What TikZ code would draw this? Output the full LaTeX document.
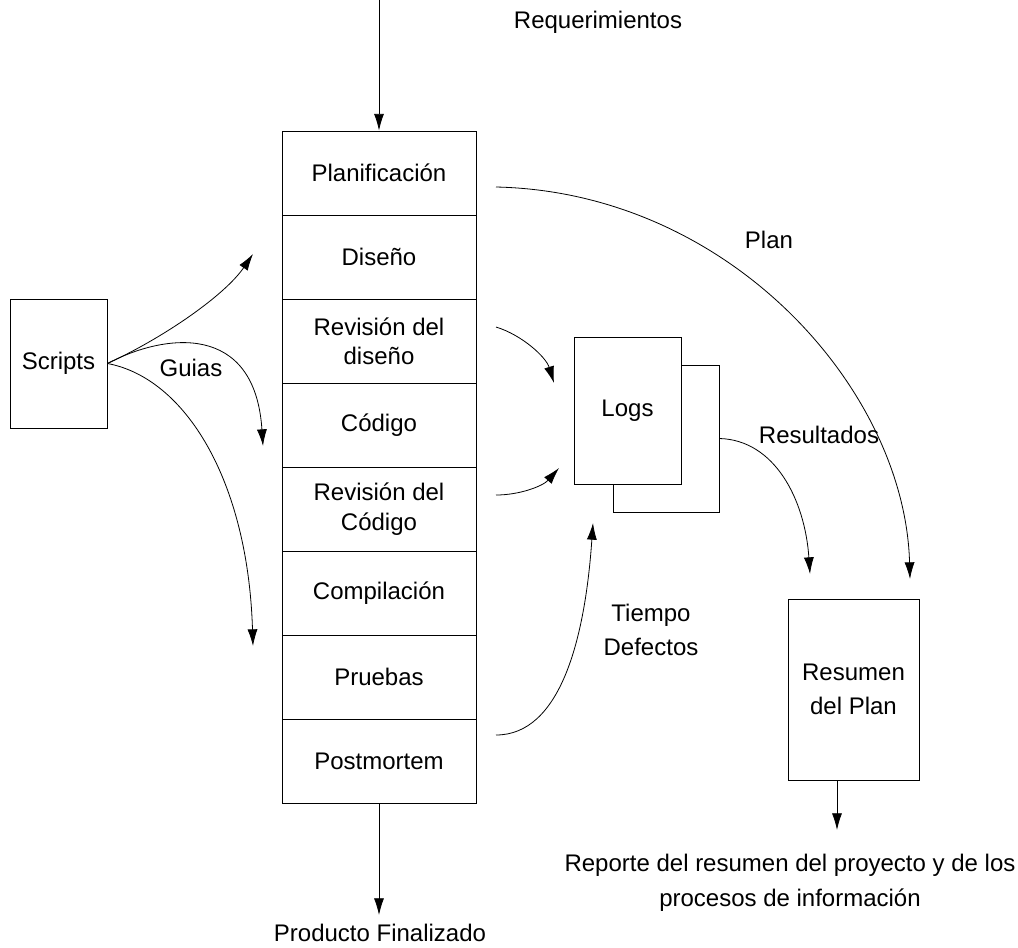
\documentclass[tikz,border=0pt]{standalone}
\usepackage{fontspec}
\setmainfont{Liberation Sans}
\usetikzlibrary{arrows.meta}
\begin{document}
\begin{tikzpicture}[x=0.75pt,y=-0.75pt,
  txt/.style={font=\fontsize{18}{26}\selectfont,inner sep=0pt,align=center},
  stage/.style={draw,line width=0.7pt,minimum width=145.5pt,minimum height=63pt,inner sep=0pt,
                font=\fontsize{18}{22}\selectfont,align=center},
  doc/.style={draw,line width=0.7pt,fill=white,inner sep=0pt,font=\fontsize{18}{25}\selectfont,align=center},
  arr/.style={line width=0.6pt,-{Latex[length=12.5pt,width=7.5pt]}},
  ln/.style={line width=0.6pt}]
\useasboundingbox (0,0) rectangle (1018,947);

% phase stack
\node[stage] (r1) at (379,173) {Planificación};
\node[stage] (r2) at (379,257) {Diseño};
\node[stage] (r3) at (379,341) {Revisión del\\diseño};
\node[stage] (r4) at (379,425) {Código};
\node[stage] (r5) at (379,509) {Revisión del\\Código};
\node[stage] (r6) at (379,593) {Compilación};
\node[stage] (r7) at (379,677) {Pruebas};
\node[stage] (r8) at (379,761) {Postmortem};

% documents
\node[doc,minimum width=72.75pt,minimum height=96.75pt] (scripts) at (58.5,363.5) {Scripts};
\node[doc,minimum width=79.5pt,minimum height=110.25pt] (logsb) at (666,438.5) {};
\node[doc,minimum width=80.25pt,minimum height=110.25pt] (logs) at (627.5,410.5) {Logs};
\node[doc,minimum width=98.25pt,minimum height=135.75pt] (resumen) at (853.5,689.5) {Resumen\\del Plan};

% labels
\node[txt] (req) at (598,22) {Requerimientos};
\node[txt] (prod) at (380,933) {Producto Finalizado};
\node[txt] (guias) at (191,368) {Guias};
\node[txt] (plan) at (769,240) {Plan};
\node[txt] (res) at (819,435) {Resultados};
\node[txt] (tiempo) at (651,630) {Tiempo\\Defectos};
\node[txt] (rep) at (790,883) {Reporte del resumen del proyecto y de los\\procesos de información};

% free ends of connectors
\coordinate (qin) at (379,0);
\coordinate (pout) at (379,915);
\coordinate (s1) at (253,254);
\coordinate (s2) at (263,446);
\coordinate (s3) at (253,646);
\coordinate (a0) at (496,327);
\coordinate (a1) at (554,383);
\coordinate (b0) at (496,495);
\coordinate (b1) at (559,468);
\coordinate (c0) at (496,735);
\coordinate (c1) at (593,523);
\coordinate (d0) at (496,187);
\coordinate (d1) at (910,579);
\coordinate (e1) at (810,574);
\coordinate (f0) at (837,780);
\coordinate (f1) at (837,830);

% straight flows
\draw[arr] (qin) -- (r1.north);
\draw[arr] (r8.south) -- (pout);
\draw[arr] (f0) -- (f1);

% guides from the scripts
\draw[arr] (scripts.east) .. controls (165,337) and (225,295) .. (s1);
\draw[arr] (scripts.east) .. controls (165,333) and (255,322) .. (s2);
\draw[arr] (scripts.east) .. controls (185,378) and (248,480) .. (s3);

% records into the logs
\draw[arr] (a0) .. controls (522,335) and (546,357) .. (a1);
\draw[arr] (b0) .. controls (520,495) and (543,486) .. (b1);
\draw[arr] (c0) .. controls (560,735) and (585,640) .. (c1);

% plan and results
\draw[arr] (d0) .. controls (730,192) and (905,390) .. (d1);
\draw[arr] (logsb.east) .. controls (775,440) and (805,500) .. (e1);
\end{tikzpicture}
\end{document}
